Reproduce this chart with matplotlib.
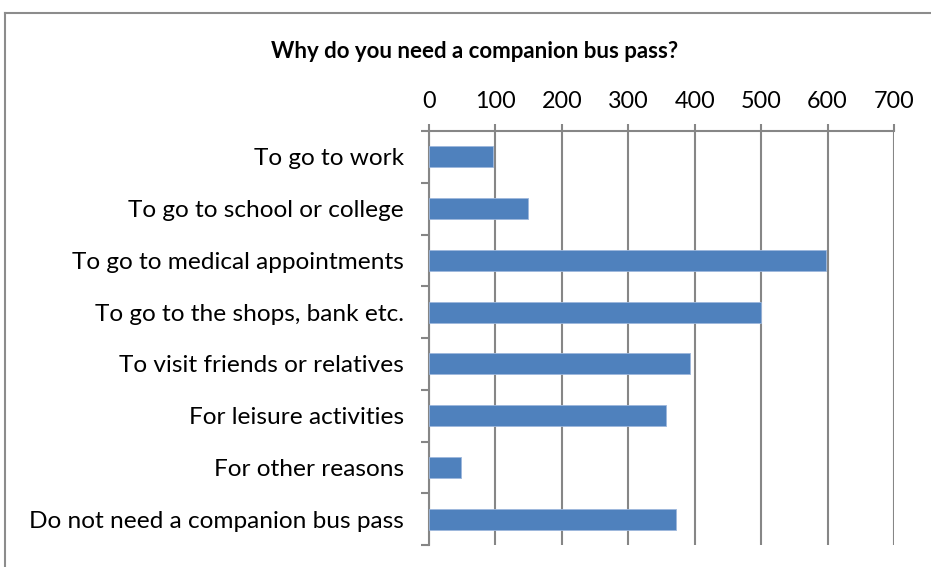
import matplotlib.pyplot as plt
from matplotlib.lines import Line2D
import numpy as np

plt.rcParams["font.family"] = ["Lato", "DejaVu Sans"]

categories = [
    "To go to work",
    "To go to school or college",
    "To go to medical appointments",
    "To go to the shops, bank etc.",
    "To visit friends or relatives",
    "For leisure activities",
    "For other reasons",
    "Do not need a companion bus pass",
]
counts = [96, 149, 598, 500, 393, 357, 48, 372]
xticks = [0, 100, 200, 300, 400, 500, 600, 700]

grid_col = "#868686"

fig = plt.figure(figsize=(9.31, 5.67), dpi=100)
ax = fig.add_axes([429 / 931, 1 - 545 / 567, (894 - 429) / 931, (545 - 131) / 567])

y = np.arange(len(categories))
ax.barh(y, counts, height=0.41, color="#4F81BD", edgecolor="#9DB7DC", linewidth=0.6, zorder=3)

ax.set_xlim(0, 700)
ax.set_ylim(len(categories) - 0.5, -0.5)
ax.xaxis.tick_top()
ax.set_xticks(xticks)
ax.set_xticklabels([str(t) for t in xticks], fontsize=16.8)
ax.tick_params(axis="x", which="major", length=5, width=1.5, color=grid_col, pad=9)
ax.grid(axis="x", color=grid_col, linewidth=1.5, zorder=0)

ax.set_yticks(y)
ax.set_yticklabels(categories, fontsize=17.6)
ax.tick_params(axis="y", which="major", length=0, pad=18)
ax.set_yticks(np.arange(len(categories) + 1) - 0.5, minor=True)
ax.tick_params(axis="y", which="minor", length=6, width=1.5, color=grid_col)

for side in ["right", "bottom"]:
    ax.spines[side].set_visible(False)
for side in ["left", "top"]:
    ax.spines[side].set_color(grid_col)
    ax.spines[side].set_linewidth(1.5)

fig.text(475 / 931, 1 - 52 / 567, "Why do you need a companion bus pass?",
         ha="center", va="center", fontsize=16, fontweight="bold")

# outer chart frame (only left and top edges visible in the crop)
fig.add_artist(Line2D([5 / 931, 5 / 931], [0, 1 - 13 / 567], transform=fig.transFigure,
                      color="#8c8c8c", linewidth=1.5))
fig.add_artist(Line2D([5 / 931, 1], [1 - 13 / 567, 1 - 13 / 567], transform=fig.transFigure,
                      color="#8c8c8c", linewidth=1.5))

fig.savefig("out.png", dpi=100)
